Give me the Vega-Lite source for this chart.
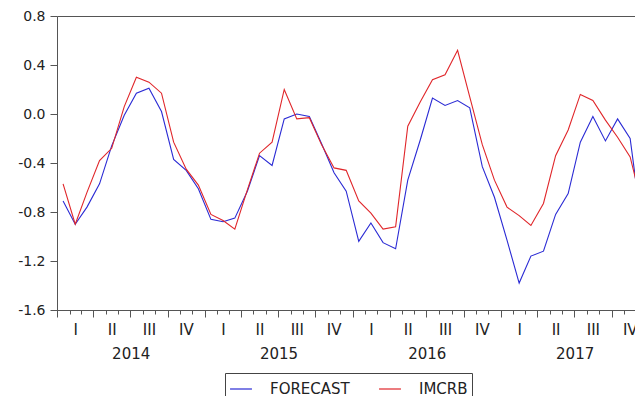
{
  "$schema": "https://vega.github.io/schema/vega-lite/v6.json",
  "autosize": "none",
  "width": 578,
  "height": 294,
  "padding": {"left": 57, "top": 16, "right": 0, "bottom": 86},
  "background": "white",
  "config": {
    "view": {"stroke": null},
    "axis": {"domainColor": "#555", "tickColor": "#555", "labelColor": "#222", "labelFont": "DejaVu Sans", "labelFontSize": 15, "grid": false, "title": null},
    "legend": {"labelFont": "DejaVu Sans", "labelFontSize": 15, "labelColor": "#222"}
  },
  "data": {"values": [
    {"month": "2014-01-16", "FORECAST": -0.71, "IMCRB": -0.57},
    {"month": "2014-02-15", "FORECAST": -0.90, "IMCRB": -0.90},
    {"month": "2014-03-16", "FORECAST": -0.76, "IMCRB": -0.64},
    {"month": "2014-04-16", "FORECAST": -0.57, "IMCRB": -0.38},
    {"month": "2014-05-16", "FORECAST": -0.26, "IMCRB": -0.28},
    {"month": "2014-06-16", "FORECAST": -0.01, "IMCRB": 0.06},
    {"month": "2014-07-16", "FORECAST": 0.17, "IMCRB": 0.30},
    {"month": "2014-08-16", "FORECAST": 0.21, "IMCRB": 0.26},
    {"month": "2014-09-16", "FORECAST": 0.02, "IMCRB": 0.17},
    {"month": "2014-10-16", "FORECAST": -0.37, "IMCRB": -0.23},
    {"month": "2014-11-16", "FORECAST": -0.46, "IMCRB": -0.45},
    {"month": "2014-12-16", "FORECAST": -0.61, "IMCRB": -0.58},
    {"month": "2015-01-16", "FORECAST": -0.86, "IMCRB": -0.82},
    {"month": "2015-02-15", "FORECAST": -0.88, "IMCRB": -0.87},
    {"month": "2015-03-16", "FORECAST": -0.85, "IMCRB": -0.94},
    {"month": "2015-04-16", "FORECAST": -0.63, "IMCRB": -0.62},
    {"month": "2015-05-16", "FORECAST": -0.34, "IMCRB": -0.32},
    {"month": "2015-06-16", "FORECAST": -0.42, "IMCRB": -0.23},
    {"month": "2015-07-16", "FORECAST": -0.04, "IMCRB": 0.20},
    {"month": "2015-08-16", "FORECAST": 0.00, "IMCRB": -0.04},
    {"month": "2015-09-16", "FORECAST": -0.02, "IMCRB": -0.03},
    {"month": "2015-10-16", "FORECAST": -0.24, "IMCRB": -0.25},
    {"month": "2015-11-16", "FORECAST": -0.48, "IMCRB": -0.44},
    {"month": "2015-12-16", "FORECAST": -0.63, "IMCRB": -0.46},
    {"month": "2016-01-16", "FORECAST": -1.04, "IMCRB": -0.71},
    {"month": "2016-02-15", "FORECAST": -0.89, "IMCRB": -0.81},
    {"month": "2016-03-16", "FORECAST": -1.05, "IMCRB": -0.94},
    {"month": "2016-04-16", "FORECAST": -1.10, "IMCRB": -0.92},
    {"month": "2016-05-16", "FORECAST": -0.54, "IMCRB": -0.10},
    {"month": "2016-06-16", "FORECAST": -0.21, "IMCRB": 0.10},
    {"month": "2016-07-16", "FORECAST": 0.13, "IMCRB": 0.28},
    {"month": "2016-08-16", "FORECAST": 0.07, "IMCRB": 0.32},
    {"month": "2016-09-16", "FORECAST": 0.11, "IMCRB": 0.52},
    {"month": "2016-10-16", "FORECAST": 0.05, "IMCRB": 0.14},
    {"month": "2016-11-16", "FORECAST": -0.43, "IMCRB": -0.25},
    {"month": "2016-12-16", "FORECAST": -0.68, "IMCRB": -0.54},
    {"month": "2017-01-16", "FORECAST": -1.03, "IMCRB": -0.76},
    {"month": "2017-02-15", "FORECAST": -1.38, "IMCRB": -0.83},
    {"month": "2017-03-16", "FORECAST": -1.16, "IMCRB": -0.91},
    {"month": "2017-04-16", "FORECAST": -1.12, "IMCRB": -0.73},
    {"month": "2017-05-16", "FORECAST": -0.82, "IMCRB": -0.34},
    {"month": "2017-06-16", "FORECAST": -0.65, "IMCRB": -0.13},
    {"month": "2017-07-16", "FORECAST": -0.23, "IMCRB": 0.16},
    {"month": "2017-08-16", "FORECAST": -0.02, "IMCRB": 0.11},
    {"month": "2017-09-16", "FORECAST": -0.22, "IMCRB": -0.05},
    {"month": "2017-10-16", "FORECAST": -0.04, "IMCRB": -0.19},
    {"month": "2017-11-16", "FORECAST": -0.20, "IMCRB": -0.35},
    {"month": "2017-12-16", "FORECAST": -0.95, "IMCRB": -0.75}
  ]},
  "resolve": {"axis": {"x": "independent"}},
  "layer": [
    {
      "transform": [{"fold": ["FORECAST", "IMCRB"], "as": ["series", "value"]}],
      "mark": {"type": "line", "strokeWidth": 1.1, "clip": true},
      "encoding": {
        "x": {"field": "month", "type": "temporal",
          "scale": {"domain": [{"year": 2014, "month": 1, "date": 1}, {"year": 2017, "month": 11, "date": 28}]},
          "axis": {"orient": "bottom", "labels": false, "tickCount": {"interval": "month", "step": 1}, "tickSize": 4, "domain": true}},
        "y": {"field": "value", "type": "quantitative",
          "scale": {"domain": [-1.6, 0.8], "nice": false, "zero": false},
          "axis": {"values": [-1.6, -1.2, -0.8, -0.4, 0.0, 0.4, 0.8], "tickSize": 7, "labelPadding": 5, "labelFontSize": 14, "labelExpr": "replace(format(datum.value, '.1f'), '\u2212', '-')"}},
        "color": {"field": "series", "type": "nominal",
          "scale": {"domain": ["FORECAST", "IMCRB"], "range": ["#2a2ad4", "#e0262a"]},
          "legend": {"title": null, "orient": "none", "legendX": 168, "legendY": 357, "direction": "horizontal",
            "symbolType": "stroke", "symbolSize": 480, "symbolStrokeWidth": 1.2, "labelOffset": 17, "columnPadding": 26,
            "padding": 4, "strokeColor": "#444", "fillColor": "white"}}
      }
    },
    {
      "mark": {"type": "rule", "opacity": 0},
      "encoding": {
        "x": {"field": "month", "type": "temporal",
          "scale": {"domain": [{"year": 2014, "month": 1, "date": 1}, {"year": 2017, "month": 11, "date": 28}]},
          "axis": {"orient": "bottom", "labels": false, "domain": false, "tickCount": {"interval": "month", "step": 3}, "tickSize": 7}}
      }
    },
    {
      "mark": {"type": "rule", "opacity": 0},
      "encoding": {
        "x": {"field": "month", "type": "temporal",
          "scale": {"domain": [{"year": 2014, "month": 1, "date": 1}, {"year": 2017, "month": 11, "date": 28}]},
          "axis": {"orient": "bottom", "domain": false, "ticks": false, "tickSize": 0, "labelPadding": 12, "labelFlush": false, "labelOverlap": false,
            "values": [
              {"year": 2014, "month": 2, "date": 15}, {"year": 2014, "month": 5, "date": 16}, {"year": 2014, "month": 8, "date": 16}, {"year": 2014, "month": 11, "date": 15},
              {"year": 2015, "month": 2, "date": 15}, {"year": 2015, "month": 5, "date": 16}, {"year": 2015, "month": 8, "date": 16}, {"year": 2015, "month": 11, "date": 15},
              {"year": 2016, "month": 2, "date": 15}, {"year": 2016, "month": 5, "date": 16}, {"year": 2016, "month": 8, "date": 16}, {"year": 2016, "month": 11, "date": 15},
              {"year": 2017, "month": 2, "date": 15}, {"year": 2017, "month": 5, "date": 16}, {"year": 2017, "month": 8, "date": 16}, {"year": 2017, "month": 11, "date": 15}
            ],
            "labelExpr": "['I','II','III','IV'][floor(month(datum.value)/3)]"}}
      }
    },
    {
      "mark": {"type": "rule", "opacity": 0},
      "encoding": {
        "x": {"field": "month", "type": "temporal",
          "scale": {"domain": [{"year": 2014, "month": 1, "date": 1}, {"year": 2017, "month": 11, "date": 28}]},
          "axis": {"orient": "bottom", "domain": false, "ticks": false, "tickSize": 0, "labelPadding": 36, "labelFlush": false, "labelOverlap": false,
            "values": [{"year": 2014, "month": 7, "date": 2}, {"year": 2015, "month": 7, "date": 2}, {"year": 2016, "month": 7, "date": 2}, {"year": 2017, "month": 7, "date": 2}],
            "format": "%Y"}}
      }
    },
    {
      "mark": {"type": "rule", "opacity": 0},
      "encoding": {
        "x": {"field": "month", "type": "temporal",
          "scale": {"domain": [{"year": 2014, "month": 1, "date": 1}, {"year": 2017, "month": 11, "date": 28}]},
          "axis": {"orient": "top", "domain": true, "ticks": false, "labels": false}}
      }
    }
  ]
}
